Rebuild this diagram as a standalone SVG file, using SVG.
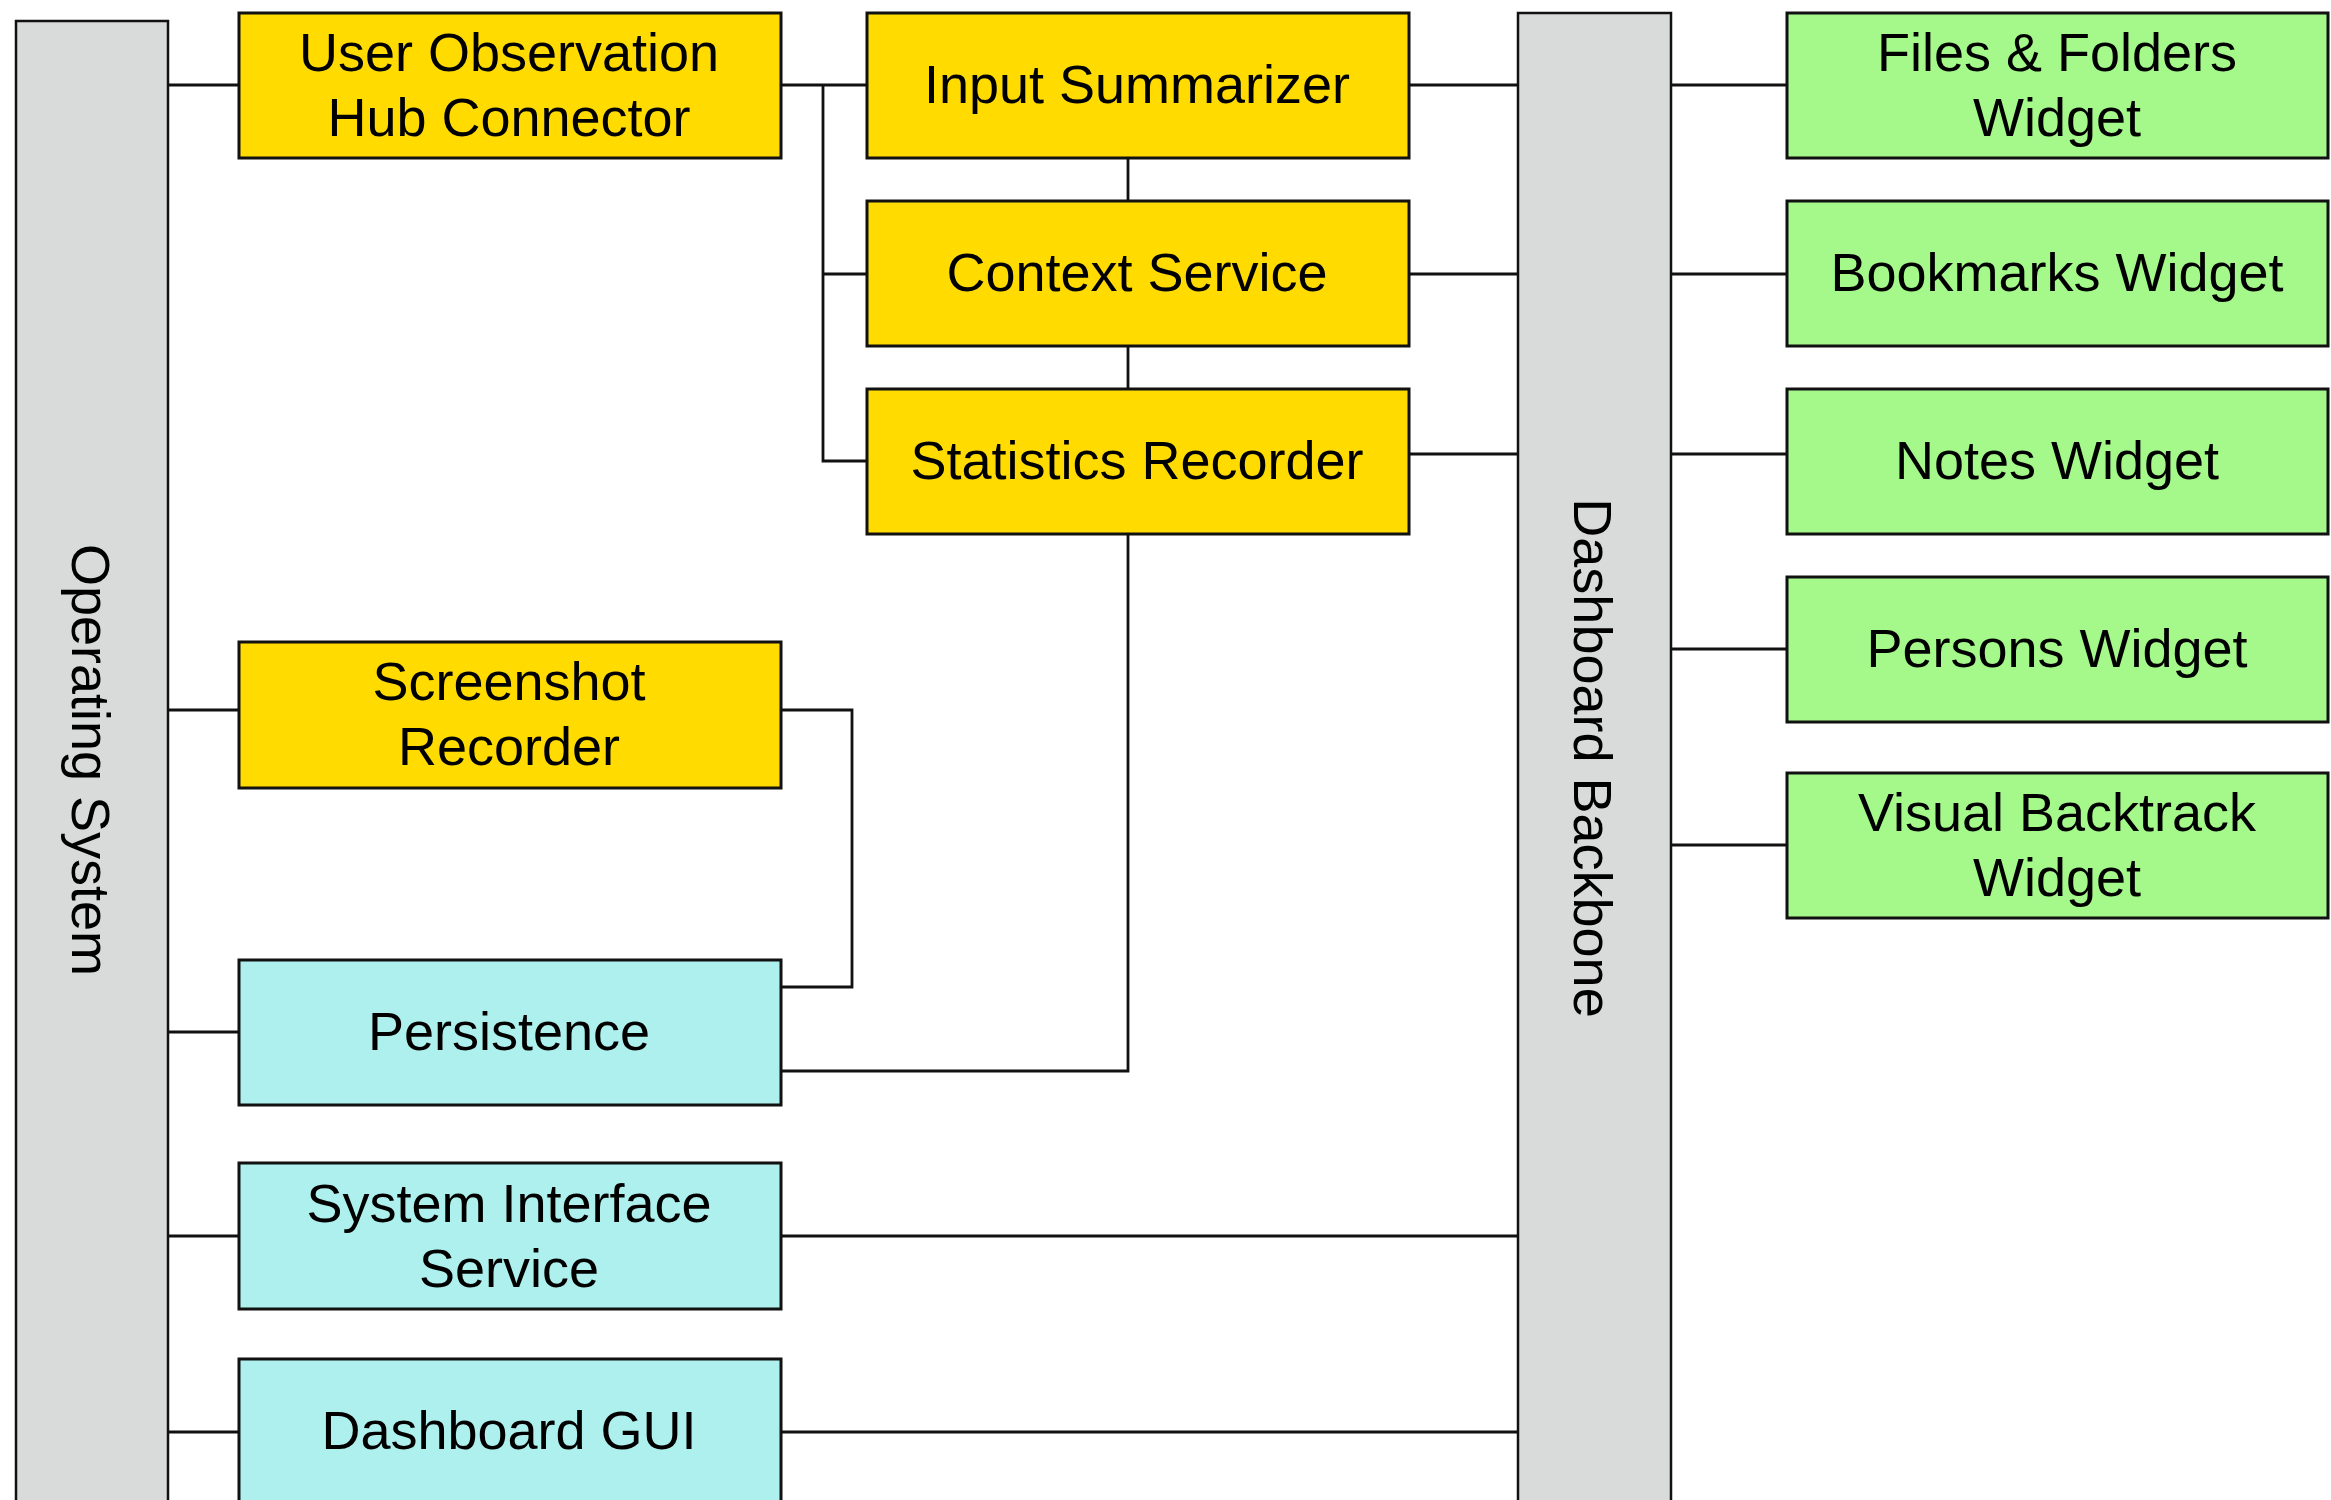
<svg xmlns="http://www.w3.org/2000/svg" width="2331" height="1500" viewBox="0 0 2331 1500">
<style>
.bar{fill:#D9DADA;stroke:#111;stroke-width:2.5}
.y{fill:#FFDB00;stroke:#111;stroke-width:3}
.c{fill:#AEF0EE;stroke:#111;stroke-width:3}
.g{fill:#A4F98A;stroke:#111;stroke-width:3}
.t{font-family:"Liberation Sans",Arial,sans-serif;font-size:54px;fill:#000;text-anchor:middle}
.ln{fill:none;stroke:#111;stroke-width:2.8}
</style>
<rect width="2331" height="1500" fill="#fff"/>
<g id="connectors">
<path class="ln" d="M168 85H239"/>
<path class="ln" d="M781 85H867"/>
<path class="ln" d="M823 85V461H867M823 274H867"/>
<path class="ln" d="M1128 158V201M1128 346V388"/>
<path class="ln" d="M1128 534V1071H781"/>
<path class="ln" d="M1409 85H1518M1409 274H1518M1409 454H1518"/>
<path class="ln" d="M1671 85H1787M1671 274H1787M1671 454H1787M1671 649H1787M1671 845H1787"/>
<path class="ln" d="M168 710H239M781 710H852V987H781"/>
<path class="ln" d="M168 1032H239M168 1236H239M168 1432H239"/>
<path class="ln" d="M781 1236H1518M781 1432H1518"/>
</g>
<g id="os"><rect class="bar" x="16" y="21" width="152" height="1500"/><text class="t" transform="translate(72 760) rotate(90)">Operating System</text></g>
<g id="backbone"><rect class="bar" x="1518" y="13" width="153" height="1500"/><text class="t" transform="translate(1574 758) rotate(90)">Dashboard Backbone</text></g>
<g id="uoh"><rect class="y" x="239" y="13" width="542" height="145"/><text class="t" x="509" y="71">User Observation</text><text class="t" x="509" y="136">Hub Connector</text></g>
<g id="input"><rect class="y" x="867" y="13" width="542" height="145"/><text class="t" x="1137" y="103">Input Summarizer</text></g>
<g id="context"><rect class="y" x="867" y="201" width="542" height="145"/><text class="t" x="1137" y="291">Context Service</text></g>
<g id="stats"><rect class="y" x="867" y="389" width="542" height="145"/><text class="t" x="1137" y="479">Statistics Recorder</text></g>
<g id="screenshot"><rect class="y" x="239" y="642" width="542" height="146"/><text class="t" x="509" y="700">Screenshot</text><text class="t" x="509" y="765">Recorder</text></g>
<g id="persistence"><rect class="c" x="239" y="960" width="542" height="145"/><text class="t" x="509" y="1050">Persistence</text></g>
<g id="sis"><rect class="c" x="239" y="1163" width="542" height="146"/><text class="t" x="509" y="1222">System Interface</text><text class="t" x="509" y="1287">Service</text></g>
<g id="gui"><rect class="c" x="239" y="1359" width="542" height="160"/><text class="t" x="509" y="1449">Dashboard GUI</text></g>
<g id="files"><rect class="g" x="1787" y="13" width="541" height="145"/><text class="t" x="2057" y="71">Files &amp; Folders</text><text class="t" x="2057" y="136">Widget</text></g>
<g id="bookmarks"><rect class="g" x="1787" y="201" width="541" height="145"/><text class="t" x="2057" y="291">Bookmarks Widget</text></g>
<g id="notes"><rect class="g" x="1787" y="389" width="541" height="145"/><text class="t" x="2057" y="479">Notes Widget</text></g>
<g id="persons"><rect class="g" x="1787" y="577" width="541" height="145"/><text class="t" x="2057" y="667">Persons Widget</text></g>
<g id="backtrack"><rect class="g" x="1787" y="773" width="541" height="145"/><text class="t" x="2057" y="831">Visual Backtrack</text><text class="t" x="2057" y="896">Widget</text></g>
</svg>
